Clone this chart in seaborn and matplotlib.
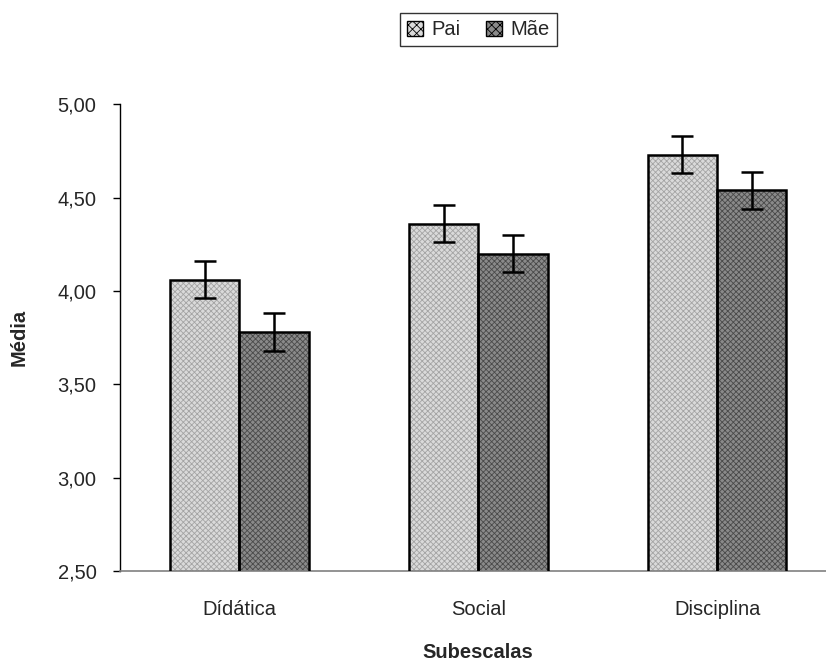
import matplotlib
matplotlib.use("Agg")
import matplotlib.pyplot as plt
import matplotlib.patches as mpatches
import seaborn as sns
import pandas as pd
import numpy as np

categories = ["Dídática", "Social", "Disciplina"]
series = ["Pai", "Mãe"]
pai_vals = [4.06, 4.36, 4.73]
mae_vals = [3.78, 4.20, 4.54]
pai_err = [0.10, 0.10, 0.10]
mae_err = [0.10, 0.10, 0.10]
yticks = [2.5, 3.0, 3.5, 4.0, 4.5, 5.0]
ytick_labels = ["2,50", "3,00", "3,50", "4,00", "4,50", "5,00"]

sns.set_style("white")
plt.rcParams["font.family"] = ["Liberation Sans", "DejaVu Sans"]
plt.rcParams["hatch.linewidth"] = 0.6

df = pd.DataFrame({
    "Subescala": categories * 2,
    "Grupo": [series[0]] * 3 + [series[1]] * 3,
    "Media": pai_vals + mae_vals,
})
errs = {series[0]: pai_err, series[1]: mae_err}

fills = {"Pai": "#dadada", "Mãe": "#8a8a8a"}
hatch_cols = {"Pai": "#a4a4a4", "Mãe": "#4a4a4a"}

FS = 14.5

fig = plt.figure(figsize=(8.26, 6.62), dpi=100)
ax = fig.add_axes([0.1453, 0.1375, 0.8674, 0.7049])

sns.barplot(data=df, x="Subescala", y="Media", hue="Grupo", order=categories,
            hue_order=series, palette=fills, errorbar=None, width=0.58,
            ax=ax, legend=False, saturation=1)

for cont, name in zip(ax.containers, series):
    for bar, e in zip(cont.patches, errs[name]):
        bar.set_hatch("xxxxxx")
        bar.set_edgecolor(hatch_cols[name])
        bar.set_linewidth(0)
        x0, y0 = bar.get_xy()
        ax.add_patch(mpatches.Rectangle((x0, y0), bar.get_width(), bar.get_height(),
                                        fill=False, edgecolor="black", linewidth=1.8, zorder=3))
        xc = x0 + bar.get_width() / 2
        ax.errorbar(xc, y0 + bar.get_height(), yerr=e, fmt="none", ecolor="black",
                    elinewidth=1.8, capsize=8, capthick=1.8, zorder=4)

ax.set_ylim(2.5, 5.0)
ax.set_xlim(-0.5, 2.5)
ax.set_yticks(yticks)
ax.set_yticklabels(ytick_labels, fontsize=FS)
ax.tick_params(axis="y", direction="out", length=5, width=1, color="black", pad=12, left=True)
ax.tick_params(axis="x", length=0, pad=21, labelsize=FS)
for s in ["top", "right"]:
    ax.spines[s].set_visible(False)
ax.spines["left"].set_color("black")
ax.spines["left"].set_linewidth(1)
ax.spines["bottom"].set_color("#808080")
ax.spines["bottom"].set_linewidth(1.2)

ax.set_ylabel("Média", fontsize=FS, fontweight="bold")
ax.set_xlabel("Subescalas", fontsize=FS, fontweight="bold")
ax.xaxis.set_label_coords(0.5, -0.155)
ax.yaxis.set_label_coords(-0.128, 0.5)

handles = [mpatches.Patch(facecolor=fills[n], edgecolor="black", hatch="xxxx", linewidth=1)
           for n in series]
leg = fig.legend(handles, series, loc="center", bbox_to_anchor=(0.579, 0.955), ncol=2,
                 frameon=True, fancybox=False, edgecolor="black", fontsize=FS,
                 handlelength=0.8, handleheight=0.8, handletextpad=0.4, columnspacing=1.3,
                 borderpad=0.35, borderaxespad=0)
leg.get_frame().set_linewidth(1)

fig.savefig("out.png", dpi=100)
